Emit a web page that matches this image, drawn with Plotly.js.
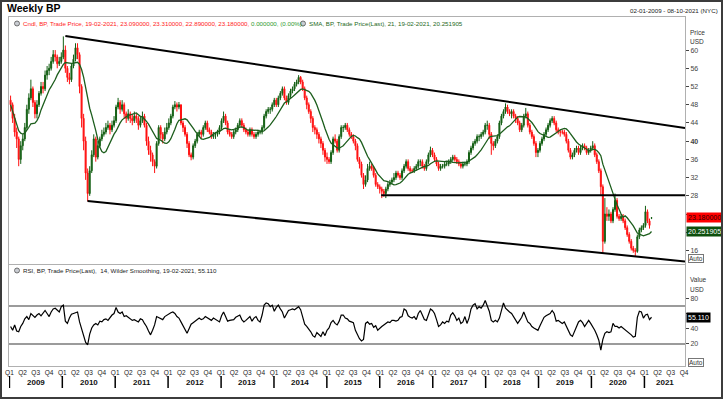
<!DOCTYPE html>
<html><head><meta charset="utf-8">
<script src="https://cdn.plot.ly/plotly-3.0.1.min.js"></script>
<style>
html,body{margin:0;padding:0;background:#fff;}
#wrap{position:relative;width:723px;height:399px;overflow:hidden;}
#chart{position:absolute;left:0;top:0;width:723px;height:399px;}
#frame{position:absolute;left:0;top:0;width:723px;height:399px;box-sizing:border-box;border:2px solid #3c3c3c;pointer-events:none;}
</style></head><body>
<div id="wrap"><div id="chart"></div><div id="frame"></div></div>
<script>
// ---- data (bi-weekly bars) ----
const START_DATE = [2009, 0, 9];
const STEP_DAYS = 14;
const opens = [
49.0,48.0,45.0,42.0,40.5,36.0,39.0,40.5,43.0,47.0,
49.5,51.5,48.5,46.0,48.0,50.5,52.0,51.5,54.5,55.5,
56.0,57.5,59.0,58.5,57.0,57.5,58.5,60.0,56.0,54.0,
53.5,56.5,58.0,60.5,59.0,52.0,45.0,40.0,33.0,28.5,
33.5,37.0,40.5,36.5,39.0,40.5,41.5,42.0,43.0,43.5,
42.5,43.5,44.5,47.5,48.5,47.0,48.0,46.0,45.0,46.0,
45.0,44.5,45.5,45.0,43.5,44.5,45.5,43.5,40.0,38.0,
37.0,35.5,34.5,39.5,43.0,41.5,40.5,42.0,43.0,44.0,
45.5,47.5,48.0,47.5,48.0,44.0,43.0,41.5,39.5,37.0,
36.5,39.0,40.0,41.5,42.0,41.5,43.0,44.0,42.5,42.0,
41.0,41.5,41.5,42.0,43.0,44.5,45.5,44.0,42.0,41.5,
41.0,42.0,42.5,43.5,44.5,43.5,42.5,42.0,41.5,42.5,
41.5,41.0,41.5,42.0,42.0,43.0,45.5,46.5,47.0,47.0,
48.0,49.0,48.0,49.5,50.5,51.5,49.5,48.5,50.0,51.0,
51.5,52.5,53.0,54.0,53.0,51.5,49.5,48.0,46.5,45.0,
43.0,42.5,41.5,40.5,39.5,38.0,36.5,36.0,35.5,37.5,
40.5,40.0,38.0,41.0,43.0,43.0,43.5,42.5,41.5,41.0,
40.0,39.0,36.0,35.0,32.5,30.5,31.5,34.0,34.5,34.0,
32.5,30.5,30.0,29.5,29.0,28.5,29.5,30.5,31.0,31.5,
32.0,33.0,32.5,32.0,33.5,34.5,35.5,34.0,33.5,33.5,
34.0,34.5,35.5,35.5,34.5,34.0,35.5,37.0,38.0,37.0,
36.0,35.0,34.0,34.5,34.5,35.0,35.0,35.5,36.0,36.5,
36.0,35.5,35.0,34.5,35.0,35.0,35.5,37.5,38.5,39.5,
40.0,41.0,41.0,41.5,42.0,43.5,43.5,41.5,39.5,39.0,
40.0,41.0,44.0,45.5,46.5,47.5,46.5,46.0,46.5,45.5,
45.0,44.0,42.5,43.5,45.5,46.0,43.5,42.0,41.0,39.5,
37.5,38.0,39.5,40.5,41.5,42.5,43.5,44.5,45.0,44.0,
42.5,42.0,42.0,42.0,41.5,40.0,38.0,36.5,37.0,38.0,
38.5,37.5,38.5,39.0,38.5,37.5,38.0,38.5,39.0,37.0,
35.5,33.5,30.0,18.0,24.0,23.5,24.0,22.5,25.0,27.0,
23.5,23.0,23.5,22.5,21.0,19.5,18.0,16.5,16.0,15.8,
19.0,20.5,21.0,21.5,24.5,22.5,23.09];
const highs = [
50.0,48.5,46.0,43.0,41.0,40.0,41.5,44.0,48.0,50.5,
53.5,52.0,49.0,49.0,51.0,53.0,53.0,55.5,56.5,57.0,
58.5,60.0,60.0,59.0,58.5,59.5,63.0,61.0,56.5,55.0,
57.0,59.0,61.5,61.5,59.5,52.5,46.0,41.0,34.0,34.5,
38.0,41.5,41.0,40.0,41.0,42.5,43.0,44.0,44.5,44.0,
44.5,45.5,48.0,49.5,49.0,49.0,48.5,46.5,47.0,46.5,
46.0,46.5,46.0,45.5,45.5,46.5,46.0,44.0,41.0,39.0,
37.5,36.0,40.0,43.5,43.5,42.0,43.0,44.0,45.0,46.0,
48.0,48.8,48.5,48.6,48.0,44.5,43.5,42.0,40.0,37.5,
39.5,40.5,42.0,42.5,42.5,43.5,44.5,44.5,43.0,42.5,
42.0,42.0,42.5,43.5,45.0,46.5,46.0,44.5,42.5,42.0,
42.5,43.0,44.0,45.0,45.0,44.0,43.0,42.5,43.0,43.0,
42.0,42.0,42.5,42.5,43.5,46.0,47.0,47.5,47.5,48.5,
49.5,49.5,50.0,51.0,52.0,52.0,50.0,50.5,51.5,52.0,
53.0,53.5,54.5,54.3,53.5,52.0,50.0,48.5,47.0,45.5,
43.5,43.0,42.0,41.0,40.0,38.5,37.5,36.5,38.0,41.0,
41.5,40.5,41.5,43.5,43.5,44.0,44.0,43.0,42.0,41.5,
40.5,39.5,36.5,35.5,33.0,32.5,35.0,35.5,35.0,34.5,
33.0,31.0,30.5,30.0,29.5,30.0,31.0,31.5,32.0,33.0,
33.5,33.5,33.0,34.0,35.0,36.0,36.0,34.5,34.0,34.5,
35.0,36.0,36.0,36.0,35.0,36.0,37.5,38.8,38.5,37.5,
36.5,35.5,35.0,35.0,35.5,35.5,36.0,36.5,37.0,37.0,
36.5,36.0,35.5,35.5,35.5,36.0,38.0,39.0,40.0,40.5,
41.5,41.5,42.0,42.5,44.0,44.5,44.0,42.0,40.0,40.5,
41.5,44.5,46.0,47.0,48.3,48.0,47.0,47.0,47.0,46.0,
45.5,44.5,44.0,46.0,47.3,46.5,44.0,42.5,41.5,40.0,
38.5,40.0,41.0,42.0,43.0,44.0,45.0,45.5,45.5,44.5,
43.0,42.5,42.5,42.5,42.0,40.5,38.5,37.5,38.5,39.0,
39.0,39.0,39.5,39.5,39.0,38.5,39.0,40.0,39.5,37.5,
36.0,34.0,30.5,27.5,25.5,25.0,24.5,25.5,28.5,27.5,
24.0,24.0,24.0,23.0,21.5,20.0,18.5,17.0,16.5,19.5,
21.0,21.5,22.0,25.8,25.0,23.0,23.31];
const lows = [
46.5,44.0,41.0,38.5,34.5,35.0,38.0,40.0,42.5,46.0,
49.0,47.5,45.0,45.0,47.5,50.0,50.5,51.0,53.5,54.5,
55.5,57.0,57.5,56.0,56.5,57.0,58.0,55.0,53.0,52.5,
53.0,56.0,57.5,58.0,50.5,43.0,38.0,31.5,26.8,28.0,
33.0,36.5,35.5,36.0,38.5,40.0,41.0,41.5,42.5,41.5,
42.0,43.0,44.0,47.0,46.0,46.5,45.0,44.0,44.5,44.0,
43.5,44.0,44.0,42.5,43.0,44.0,43.0,39.0,37.0,35.5,
34.5,33.0,34.0,39.0,40.5,39.5,40.0,41.5,42.5,43.5,
45.0,47.0,46.5,47.0,43.5,42.0,41.0,38.5,36.5,35.8,
36.0,38.5,39.5,41.0,40.5,41.0,42.5,42.0,41.5,40.5,
40.5,40.5,41.0,41.5,42.5,44.0,43.5,41.5,41.0,40.5,
40.5,41.5,42.0,43.0,43.0,42.0,41.5,41.0,41.0,41.0,
40.5,40.5,41.0,41.5,41.5,42.5,45.0,46.0,46.0,46.5,
47.5,47.5,47.5,49.0,50.0,49.0,48.0,48.0,49.5,50.5,
51.0,52.0,52.5,52.5,51.0,49.0,47.0,46.0,44.0,42.0,
41.5,40.5,39.5,38.5,37.0,35.5,35.0,35.0,35.0,37.0,
39.5,37.5,37.5,40.5,42.0,42.5,42.0,41.0,40.5,39.5,
38.0,35.5,34.0,32.0,29.5,30.0,31.0,33.5,33.5,32.0,
30.0,29.5,28.5,27.5,27.8,27.5,29.0,30.0,30.5,31.0,
31.5,32.0,31.5,31.5,33.0,34.0,33.5,33.0,33.0,33.0,
33.5,34.0,34.5,34.0,33.5,33.5,35.0,36.5,36.5,35.5,
34.5,33.5,33.5,34.0,34.0,34.5,34.5,35.0,35.5,35.5,
35.0,34.5,34.0,34.0,34.5,34.5,35.0,37.0,38.0,39.0,
39.5,40.0,40.5,41.0,41.5,42.5,40.5,37.0,38.0,38.5,
39.5,40.5,43.5,45.0,46.0,46.0,45.5,45.0,45.0,44.0,
43.5,42.0,42.0,43.0,45.0,43.0,41.5,40.5,39.0,36.5,
36.5,37.5,39.0,40.0,41.0,42.0,43.0,44.0,43.5,42.0,
41.5,41.0,41.5,41.0,39.5,37.5,36.0,36.0,36.5,37.5,
37.0,37.0,38.0,38.0,37.0,37.0,37.5,38.0,36.5,35.0,
33.0,28.0,15.5,17.5,22.5,22.5,22.0,22.0,24.5,23.0,
22.5,22.5,22.0,20.5,19.0,17.5,16.0,15.5,14.8,15.5,
18.5,20.0,20.5,21.0,22.0,20.8,22.89];
const closes = [
48.0,45.0,42.0,40.5,36.0,39.0,40.5,43.0,47.0,49.5,
51.5,48.5,46.0,48.0,50.5,52.0,51.5,54.5,55.5,56.0,
57.5,59.0,58.5,57.0,57.5,58.5,60.0,56.0,54.0,53.5,
56.5,58.0,60.5,59.0,52.0,45.0,40.0,33.0,28.5,33.5,
37.0,40.5,36.5,39.0,40.5,41.5,42.0,43.0,43.5,42.5,
43.5,44.5,47.5,48.5,47.0,48.0,46.0,45.0,46.0,45.0,
44.5,45.5,45.0,43.5,44.5,45.5,43.5,40.0,38.0,37.0,
35.5,34.5,39.5,43.0,41.5,40.5,42.0,43.0,44.0,45.5,
47.5,48.0,47.5,48.0,44.0,43.0,41.5,39.5,37.0,36.5,
39.0,40.0,41.5,42.0,41.5,43.0,44.0,42.5,42.0,41.0,
41.5,41.5,42.0,43.0,44.5,45.5,44.0,42.0,41.5,41.0,
42.0,42.5,43.5,44.5,43.5,42.5,42.0,41.5,42.5,41.5,
41.0,41.5,42.0,42.0,43.0,45.5,46.5,47.0,47.0,48.0,
49.0,48.0,49.5,50.5,51.5,49.5,48.5,50.0,51.0,51.5,
52.5,53.0,54.0,53.0,51.5,49.5,48.0,46.5,45.0,43.0,
42.5,41.5,40.5,39.5,38.0,36.5,36.0,35.5,37.5,40.5,
40.0,38.0,41.0,43.0,43.0,43.5,42.5,41.5,41.0,40.0,
39.0,36.0,35.0,32.5,30.5,31.5,34.0,34.5,34.0,32.5,
30.5,30.0,29.5,29.0,28.5,29.5,30.5,31.0,31.5,32.0,
33.0,32.5,32.0,33.5,34.5,35.5,34.0,33.5,33.5,34.0,
34.5,35.5,35.5,34.5,34.0,35.5,37.0,38.0,37.0,36.0,
35.0,34.0,34.5,34.5,35.0,35.0,35.5,36.0,36.5,36.0,
35.5,35.0,34.5,35.0,35.0,35.5,37.5,38.5,39.5,40.0,
41.0,41.0,41.5,42.0,43.5,43.5,41.5,39.5,39.0,40.0,
41.0,44.0,45.5,46.5,47.5,46.5,46.0,46.5,45.5,45.0,
44.0,42.5,43.5,45.5,46.0,43.5,42.0,41.0,39.5,37.5,
38.0,39.5,40.5,41.5,42.5,43.5,44.5,45.0,44.0,42.5,
42.0,42.0,42.0,41.5,40.0,38.0,36.5,37.0,38.0,38.5,
37.5,38.5,39.0,38.5,37.5,38.0,38.5,39.0,37.0,35.5,
33.5,30.0,18.0,24.0,23.5,24.0,22.5,25.0,27.0,23.5,
23.0,23.5,22.5,21.0,19.5,18.0,16.5,16.0,15.8,19.0,
20.5,21.0,21.5,24.5,22.5,21.5,23.18];
const rsiValues = [
43,38,45,37,36,43,47,53,56,52,
60,58,55,58,60,57,61,64,60,56,
62,66,67,64,62,69,71,50,47,54,
59,60,61,62,49,41,32,22,19,33,
41,45,47,45,50,49,52,53,51,55,
58,60,68,62,60,62,56,57,55,54,
51,52,51,49,53,52,47,43,37,32,
38,45,56,55,54,52,56,58,59,61,
62,60,56,54,49,44,39,34,40,46,
48,50,52,54,52,53,56,54,52,51,
54,52,50,49,57,62,56,50,51,52,
52,55,57,58,52,49,51,53,56,50,
54,56,51,49,58,71,74,73,69,71,
63,68,71,66,62,54,60,64,65,66,
65,67,69,65,55,46,43,40,36,31,
29,35,32,30,36,31,38,41,48,51,
47,45,50,58,58,54,53,50,49,48,
38,32,27,24,26,47,49,46,47,42,
44,38,41,43,45,47,49,48,51,51,
50,51,55,56,66,64,57,55,54,56,
52,60,64,58,52,51,58,66,64,60,
52,43,45,49,47,50,49,58,61,57,
51,54,47,49,56,47,54,66,71,73,
66,69,67,71,77,71,63,51,49,51,
49,54,66,74,67,64,62,60,56,52,
47,51,55,62,56,49,47,43,41,40,
38,44,49,55,57,59,60,64,60,50,
51,49,47,49,43,38,32,30,36,42,
49,51,48,43,48,51,47,43,38,32,
25,12,26,34,36,35,36,47,43,43,
41,43,41,39,36,34,32,29,30,55,
63,62,54,58,59,52,55.11];
const smaBars = 11;              // 21 weekly bars ~ 11 bi-weekly bars
const lastSmaLabel = 20.251905;
const lastCloseLabel = 23.18;
const lastRsiLabel = 55.11;
const upperTrendDates = ['2010-01-22', '2021-10-08'];
const upperTrendValues = [63.1, 42.9];
const lowerTrendDates = ['2010-06-24', '2021-10-08'];
const lowerTrendValues = [26.85, 13.6];
const supportDates = ['2016-01-11', '2021-10-08'];
const supportValues = [28.1, 28.1];
const rsiLevels = [70, 20];
const priceTicks = [16, 20, 24, 28, 32, 36, 40, 44, 48, 52, 56, 60];
const hiddenPriceLabels = [20, 24];   // covered by the value boxes
const rsiTicks = [20, 40, 60, 80];
const hiddenRsiLabels = [60];
const years = [2009, 2010, 2011, 2012, 2013, 2014, 2015, 2016, 2017, 2018, 2019, 2020, 2021];
const quarterNames = ['Q1', 'Q2', 'Q3', 'Q4'];
const xRange = ['2008-12-29', '2021-10-08'];

// ---- build ----
const W = 723, H = 399;
const px = v => v / W;
const py = v => 1 - v / H;
const dates = closes.map((_, i) => new Date(Date.UTC(START_DATE[0], START_DATE[1], START_DATE[2]) + i * STEP_DAYS * 864e5).toISOString().slice(0, 10));
const sma = closes.map((_, i) => {
  const w = closes.slice(Math.max(0, i - smaBars + 1), i + 1);
  return w.reduce((a, b) => a + b, 0) / w.length;
});
const qMonths = ['01', '04', '07', '10'];
const qVals = [], qText = [];
years.forEach(y => quarterNames.forEach((q, k) => { qVals.push(y + '-' + qMonths[k] + '-01'); qText.push(q); }));

const FONT = 'Arial, "Liberation Sans", sans-serif';
const frameColor = '#b0b0b0';

const traces = [
  {type: 'candlestick', x: dates, open: opens, high: highs, low: lows, close: closes,
   xaxis: 'x', yaxis: 'y', whiskerwidth: 0, hoverinfo: 'skip', showlegend: false,
   increasing: {line: {color: '#135f13', width: 1}, fillcolor: '#135f13'},
   decreasing: {line: {color: '#ff1010', width: 1}, fillcolor: '#ff1010'}},
  {type: 'scatter', mode: 'lines', x: dates, y: sma, xaxis: 'x', yaxis: 'y',
   line: {color: '#1d5e1d', width: 1.3}, hoverinfo: 'skip', showlegend: false},
  {type: 'scatter', mode: 'lines', x: upperTrendDates, y: upperTrendValues, xaxis: 'x', yaxis: 'y',
   line: {color: '#000', width: 2}, hoverinfo: 'skip', showlegend: false},
  {type: 'scatter', mode: 'lines', x: lowerTrendDates, y: lowerTrendValues, xaxis: 'x', yaxis: 'y',
   line: {color: '#000', width: 2}, hoverinfo: 'skip', showlegend: false},
  {type: 'scatter', mode: 'lines', x: supportDates, y: supportValues, xaxis: 'x', yaxis: 'y',
   line: {color: '#000', width: 2}, hoverinfo: 'skip', showlegend: false},
  {type: 'scatter', mode: 'lines', x: dates, y: rsiValues, xaxis: 'x2', yaxis: 'y2',
   line: {color: '#000', width: 1.2}, hoverinfo: 'skip', showlegend: false}
];

const shapes = rsiLevels.map(v => ({type: 'line', xref: 'x2 domain', yref: 'y2', x0: 0, x1: 1, y0: v, y1: v,
  line: {color: '#7a7a7a', width: 1.5}, layer: 'below'}));
years.forEach(y => shapes.push({type: 'line', xref: 'x', yref: 'paper', x0: y + '-01-01', x1: y + '-01-01',
  y0: py(388), y1: py(376), line: {color: '#000', width: 1.5}}));
// legend icons
[[17, 23.5], [303, 23.5], [17, 270.5]].forEach(([cx, cy]) => shapes.push({type: 'circle', xref: 'paper', yref: 'paper',
  x0: px(cx - 2.5), x1: px(cx + 2.5), y0: py(cy + 2.5), y1: py(cy - 2.5), fillcolor: '#c9ccd2', line: {color: '#555', width: 0.8}}));

const ann = [];
const A = (o) => ann.push(Object.assign({showarrow: false, xref: 'paper', yref: 'paper', xanchor: 'left', yanchor: 'middle',
  font: {family: FONT, size: 6.2, color: '#222'}}, o));
A({x: px(5), y: py(8), text: '<b>Weekly BP</b>', font: {family: FONT, size: 10.5, color: '#000'}});
A({x: px(720), y: py(10), xanchor: 'right', text: '02-01-2009 - 08-10-2021 (NYC)', font: {family: FONT, size: 6.2, color: '#222'}});
A({x: px(20.5), y: py(23.5), text: '<span style="color:#ff1a1a">Cndl, BP, Trade Price, 19-02-2021, 23.090000, 23.310000, 22.890000, 23.180000, </span><span style="color:#2f9a2f">0.000000, (0.00%),</span>'});
A({x: px(307), y: py(23.5), text: 'SMA, BP, Trade Price(Last), 21, 19-02-2021, 20.251905', font: {family: FONT, size: 6.2, color: '#1d6a1d'}});
A({x: px(20.5), y: py(270.5), text: 'RSI, BP, Trade Price(Last),  14, Wilder Smoothing, 19-02-2021, 55.110'});
A({x: px(688), y: py(32), text: 'Price', font: {family: FONT, size: 6.5, color: '#333'}});
A({x: px(688), y: py(41.5), text: 'USD', font: {family: FONT, size: 6.5, color: '#333'}});
A({x: px(688), y: py(279), text: 'Value', font: {family: FONT, size: 6.5, color: '#333'}});
A({x: px(688), y: py(289), text: 'USD', font: {family: FONT, size: 6.5, color: '#333'}});
A({x: px(688), y: py(258.5), text: 'Auto', bordercolor: '#777', borderwidth: 1, borderpad: 0, font: {family: FONT, size: 6.5, color: '#333'}});
A({x: px(688), y: py(362), text: 'Auto', bordercolor: '#777', borderwidth: 1, borderpad: 0, font: {family: FONT, size: 6.5, color: '#333'}});
A({x: px(685.5), yref: 'y', y: lastCloseLabel, text: lastCloseLabel.toFixed(6), bgcolor: '#ff0000', borderpad: 1, font: {family: FONT, size: 7, color: '#300000'}});
A({x: px(685.5), yref: 'y', y: lastSmaLabel, text: lastSmaLabel.toFixed(6), bgcolor: '#0c4f0c', borderpad: 1, font: {family: FONT, size: 7, color: '#fff'}});
A({x: px(685.5), yref: 'y2', y: lastRsiLabel, text: lastRsiLabel.toFixed(3), bgcolor: '#000', borderpad: 1, font: {family: FONT, size: 7, color: '#fff'}});
const r0 = new Date(xRange[0]).getTime(), r1 = new Date(xRange[1]).getTime();
years.forEach(y => {
  const a = Math.max(Date.UTC(y, 0, 1), r0), b = Math.min(Date.UTC(y + 1, 0, 1), r1);
  A({xref: 'x', x: new Date((a + b) / 2).toISOString().slice(0, 10), xanchor: 'center', y: py(382.5), text: '<b>' + y + '</b>',
    font: {family: FONT, size: 8, color: '#111'}});
});

const axBase = {showgrid: false, zeroline: false, showline: true, mirror: true, linecolor: frameColor, linewidth: 1, fixedrange: true};
const layout = {
  width: W, height: H, margin: {l: 0, r: 0, t: 0, b: 0}, paper_bgcolor: '#fff', plot_bgcolor: '#fff',
  showlegend: false, font: {family: FONT},
  xaxis: Object.assign({}, axBase, {domain: [px(9), px(685)], range: xRange, type: 'date', anchor: 'y',
    showticklabels: false, ticks: '', rangeslider: {visible: false}}),
  yaxis: Object.assign({}, axBase, {domain: [py(263.5), py(17)], range: [13.14, 67.26], side: 'right', anchor: 'x',
    tickvals: priceTicks,
    ticktext: priceTicks.map(v => hiddenPriceLabels.includes(v) ? '' : (v === 40 ? '<b>40</b>' : String(v))),
    ticks: 'outside', ticklen: 3, tickcolor: '#444', tickfont: {family: FONT, size: 7, color: '#444'}}),
  xaxis2: Object.assign({}, axBase, {domain: [px(9), px(685)], range: xRange, type: 'date', anchor: 'y2',
    tickvals: qVals, ticktext: qText, ticks: '', tickfont: {family: FONT, size: 6.5, color: '#222'}}),
  yaxis2: Object.assign({}, axBase, {domain: [py(366), py(265)], range: [-8.9, 123.7], side: 'right', anchor: 'x2',
    tickvals: rsiTicks, ticktext: rsiTicks.map(v => hiddenRsiLabels.includes(v) ? '' : String(v)),
    ticks: 'outside', ticklen: 3, tickcolor: '#444', tickfont: {family: FONT, size: 7, color: '#444'}}),
  shapes: shapes, annotations: ann
};
Plotly.newPlot('chart', traces, layout, {staticPlot: true, displayModeBar: false});
</script>
</body></html>
